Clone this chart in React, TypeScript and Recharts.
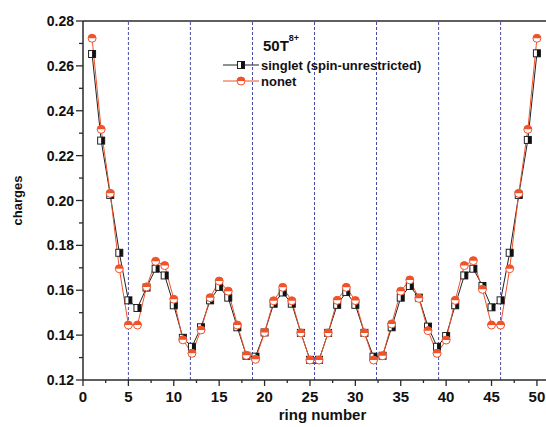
import React from "react";
import {
  ComposedChart,
  Line,
  XAxis,
  YAxis,
  ReferenceLine,
  Legend,
} from "recharts";

const rings: number[] = Array.from({ length: 50 }, (_, i) => i + 1);

const singlet: number[] = [
  0.2653, 0.2267, 0.2025, 0.1767, 0.1555, 0.1521, 0.1612, 0.1696, 0.1666, 0.1533,
  0.1388, 0.1348, 0.1435, 0.1555, 0.1615, 0.1567, 0.1435, 0.1308, 0.1304, 0.1412,
  0.154, 0.159, 0.154, 0.141, 0.129, 0.129, 0.141, 0.1535, 0.1592, 0.1535,
  0.141, 0.1304, 0.1308, 0.1435, 0.1567, 0.1619, 0.1567, 0.1438, 0.1348, 0.1396,
  0.1533, 0.1666, 0.1696, 0.1619, 0.1524, 0.1555, 0.1767, 0.2025, 0.227, 0.2656,
];

const nonet: number[] = [
  0.2723, 0.2317, 0.2032, 0.1696, 0.1445, 0.1445, 0.1615, 0.1729, 0.171, 0.156,
  0.1379, 0.1319, 0.1423, 0.1567, 0.1641, 0.1596, 0.1445, 0.131, 0.1292, 0.1412,
  0.1553, 0.1613, 0.1553, 0.141, 0.1289, 0.1289, 0.141, 0.1555, 0.1613, 0.1554,
  0.141, 0.1289, 0.1308, 0.145, 0.1596, 0.1646, 0.1564, 0.142, 0.1319, 0.1378,
  0.1555, 0.171, 0.1732, 0.1604, 0.1445, 0.1445, 0.1696, 0.2032, 0.2317, 0.2723,
];

const dividers: number[] = [5, 11.83, 18.67, 25.5, 32.33, 39.17, 46];

const xTicks: number[] = [
  0, 2.5, 5, 7.5, 10, 12.5, 15, 17.5, 20, 22.5, 25, 27.5, 30, 32.5, 35, 37.5, 40,
  42.5, 45, 47.5, 50,
];
const yTicks: number[] = [
  0.12, 0.13, 0.14, 0.15, 0.16, 0.17, 0.18, 0.19, 0.2, 0.21, 0.22, 0.23, 0.24,
  0.25, 0.26, 0.27, 0.28,
];

const data = rings.map((r, i) => ({ ring: r, singlet: singlet[i], nonet: nonet[i] }));

const FONT = "'Liberation Sans', Arial, sans-serif";
const AXIS = "#2a2a2a";
const RED = "#f0522a";
const DIV = "#4a4aa8";

const XTick = (props: any) => {
  const { x, y, payload } = props;
  const v = payload.value as number;
  const major = Math.abs(v % 5) < 1e-6;
  return (
    <g>
      <line x1={x} x2={x} y1={y} y2={y + (major ? 6 : 3)} stroke={AXIS} strokeWidth={1.3} />
      {major && (
        <text x={x} y={y + 22} textAnchor="middle" fontFamily={FONT} fontWeight="bold" fontSize={15} fill="#111">
          {v}
        </text>
      )}
    </g>
  );
};

const YTick = (props: any) => {
  const { x, y, payload } = props;
  const v = payload.value as number;
  const major = Math.round(v * 100) % 2 === 0;
  return (
    <g>
      <line x1={x} x2={x - (major ? 7 : 4)} y1={y} y2={y} stroke={AXIS} strokeWidth={1.3} />
      {major && (
        <text x={x - 9} y={y + 5} textAnchor="end" fontFamily={FONT} fontWeight="bold" fontSize={14} fill="#111">
          {v.toFixed(2)}
        </text>
      )}
    </g>
  );
};

const SquareDot = (props: any) => {
  const { cx, cy } = props;
  if (cx == null || cy == null) return null;
  const s = 3.5;
  return (
    <g>
      <rect x={cx - s} y={cy - s} width={2 * s} height={2 * s} fill="#fff" stroke="#222" strokeWidth={1} />
      <rect x={cx} y={cy - s} width={s} height={2 * s} fill="#111" />
    </g>
  );
};

const CircleDot = (props: any) => {
  const { cx, cy } = props;
  if (cx == null || cy == null) return null;
  const r = 4;
  return (
    <g>
      <circle cx={cx} cy={cy} r={r} fill="#fff" stroke={RED} strokeWidth={1} />
      <path d={`M ${cx - r} ${cy} A ${r} ${r} 0 0 1 ${cx + r} ${cy} Z`} fill={RED} />
    </g>
  );
};

const LegendContent = () => (
  <div style={{ fontFamily: FONT, fontWeight: "bold", color: "#111", whiteSpace: "nowrap" }}>
    <div style={{ fontSize: 15, marginLeft: 41, height: 22, lineHeight: "22px" }}>
      50T<sup style={{ fontSize: 9, verticalAlign: "top", position: "relative", top: -8 }}>8+</sup>
    </div>
    {[
      { label: "singlet (spin-unrestricted)", color: "#222", Dot: SquareDot },
      { label: "nonet", color: RED, Dot: CircleDot },
    ].map((e) => (
      <div key={e.label} style={{ display: "flex", alignItems: "center", height: 16 }}>
        <svg width={38} height={14} style={{ display: "block", flex: "none" }}>
          <line x1={1} x2={37} y1={7} y2={7} stroke={e.color} strokeWidth={1} />
          <e.Dot cx={19} cy={7} />
        </svg>
        <span style={{ fontSize: 13, marginLeft: 1 }}>{e.label}</span>
      </div>
    ))}
  </div>
);

export default function App() {
  return (
    <div style={{ position: "absolute", left: 0, top: 0, width: 546, height: 427, background: "#fff" }}>
      <ComposedChart
        width={546}
        height={427}
        data={data}
        margin={{ top: 21, right: 0, bottom: 0, left: 0 }}
      >
        <XAxis
          dataKey="ring"
          type="number"
          domain={[0, 51]}
          ticks={xTicks}
          interval={0}
          tickSize={0}
          tickMargin={0}
          tickLine={false}
          tick={<XTick />}
          height={47}
          axisLine={{ stroke: AXIS, strokeWidth: 1.5 }}
          allowDataOverflow
          label={{
            content: (p: any) => {
              const vb = p.viewBox;
              return (
                <text x={vb.x + vb.width / 2 + 8} y={420} textAnchor="middle" fontFamily={FONT} fontWeight="bold" fontSize={15} fill="#111">
                  ring number
                </text>
              );
            },
          }}
        />
        <YAxis
          type="number"
          domain={[0.12, 0.28]}
          ticks={yTicks}
          interval={0}
          tickSize={0}
          tickMargin={0}
          tickLine={false}
          tick={<YTick />}
          width={83}
          axisLine={{ stroke: AXIS, strokeWidth: 1.5 }}
          allowDataOverflow
          label={{
            content: (p: any) => {
              const vb = p.viewBox;
              const cx = 17;
              const cy = vb.y + vb.height / 2;
              return (
                <text x={cx} y={cy} transform={`rotate(-90 ${cx} ${cy})`} textAnchor="middle" dominantBaseline="central" fontFamily={FONT} fontWeight="bold" fontSize={13} fill="#111">
                  charges
                </text>
              );
            },
          }}
        />
        <ReferenceLine y={0.28} stroke={AXIS} strokeWidth={1.5} />
        {dividers.map((d) => (
          <ReferenceLine key={d} x={d} stroke={DIV} strokeWidth={1} strokeDasharray="3 2" />
        ))}
        <Legend
          layout="vertical"
          verticalAlign="middle"
          align="center"
          content={<LegendContent />}
          wrapperStyle={{ left: 222, top: 35, width: 260, height: 60 }}
        />
        <Line
          dataKey="singlet"
          stroke="#222"
          strokeWidth={1}
          dot={<SquareDot />}
          activeDot={false}
          isAnimationActive={false}
        />
        <Line
          dataKey="nonet"
          stroke={RED}
          strokeWidth={1}
          dot={<CircleDot />}
          activeDot={false}
          isAnimationActive={false}
        />
      </ComposedChart>
    </div>
  );
}
